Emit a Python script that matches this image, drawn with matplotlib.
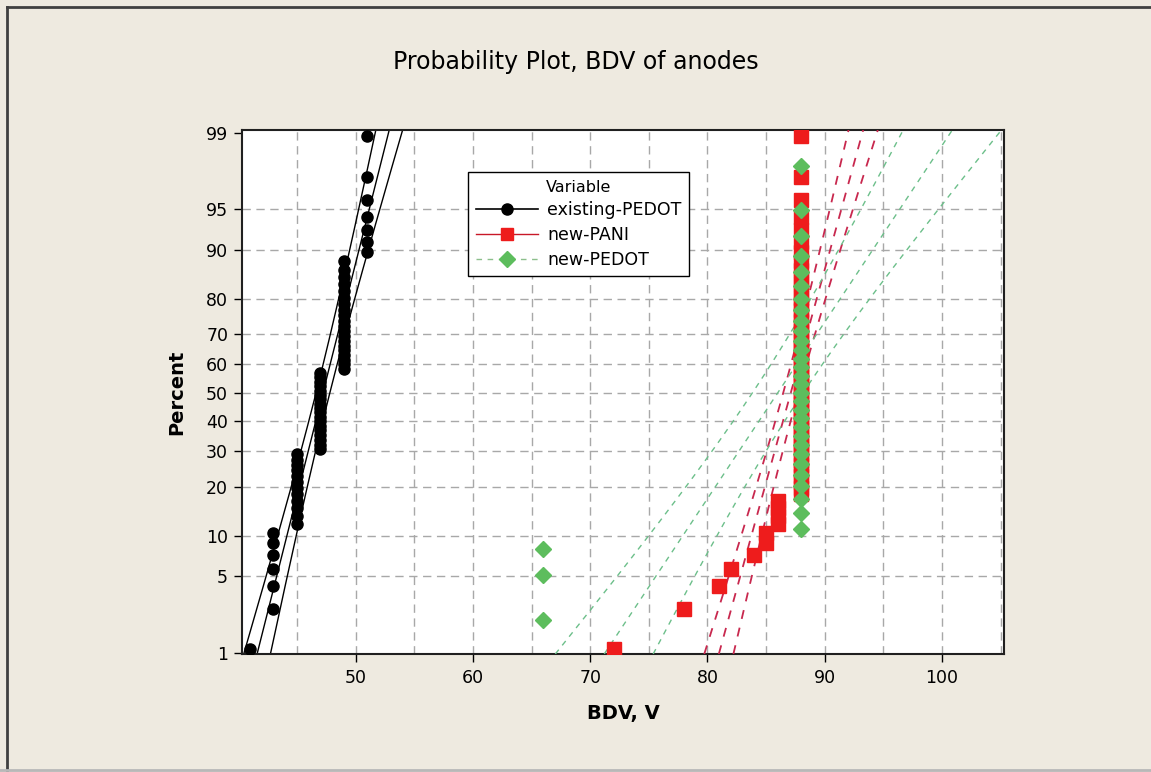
import matplotlib
matplotlib.use("Agg")
import matplotlib.pyplot as plt
from matplotlib.lines import Line2D
import numpy as np
from statistics import NormalDist

# ---------------- data ----------------
existing_values = [41, 43, 45, 47, 49, 51]
existing_counts = [1, 6, 12, 18, 20, 7]

pani_values = [72, 78, 81, 82, 84, 85, 86, 88]
pani_counts = [1, 1, 1, 1, 1, 2, 4, 53]

newpedot_values = [66, 88]
newpedot_counts = [3, 30]

percent_ticks = [1, 5, 10, 20, 30, 40, 50, 60, 70, 80, 90, 95, 99]
x_ticks = [50, 60, 70, 80, 90, 100]
x_grid = [45, 50, 55, 60, 65, 70, 75, 80, 85, 90, 95, 100, 105]

series_names = ["existing-PEDOT", "new-PANI", "new-PEDOT"]
title = "Probability Plot, BDV of anodes"
xlabel = "BDV, V"
ylabel = "Percent"

nd = NormalDist()

BG = "#EEEAE0"
fig = plt.figure(figsize=(11.51, 7.72), dpi=100, facecolor=BG)
ax = fig.add_axes([0.2103, 0.1528, 0.8723 - 0.2103, 0.8316 - 0.1528])
ax.set_facecolor("white")

zlo, zhi = -2.34, 2.353
ax.set_xlim(40.32, 105.29)
ax.set_ylim(zlo, zhi)

# grid
for gx in x_grid:
    ax.axvline(gx, color="#a8a8a8", lw=1.0, ls=(0, (6, 4)), zorder=0)
for p in percent_ticks[1:-1]:
    ax.axhline(nd.inv_cdf(p / 100), color="#a8a8a8", lw=1.0, ls=(0, (6, 4)), zorder=0)


def prob_points(values, counts):
    data = np.sort(np.repeat(values, counts)).astype(float)
    n = len(data)
    i = np.arange(1, n + 1)
    pr = (i - 0.3) / (n + 0.4)
    z = np.array([nd.inv_cdf(v) for v in pr])
    return data, z


def fit_lines(data):
    n = len(data)
    mu = data.mean()
    sd = data.std()
    zz = np.linspace(zlo, zhi, 200)
    xp = mu + zz * sd
    se = sd * np.sqrt((1 + zz ** 2 / 2) / n)
    return zz, xp, xp - 1.96 * se, xp + 1.96 * se


specs = [
    (existing_values, existing_counts, "black", "o", 8.0, "-", "black", 1.0),
    (pani_values, pani_counts, "#ee1c1c", "s", 9.5, (0, (5, 5)), "#c8284e", 1.3),
    (newpedot_values, newpedot_counts, "#5dbd5d", "D", 8.5, (0, (4, 4)), "#6cbf8a", 1.0),
]

for k, (vals, cnts, mc, mk, ms, ls, lc, lw) in enumerate(specs):
    data, z = prob_points(vals, cnts)
    zz, xp, lo, hi = fit_lines(data)
    for line in (xp, lo, hi):
        ax.plot(line, zz, color=lc, ls=ls, lw=lw, zorder=2 + k)
    ax.plot(data, z, ls="none", marker=mk, color=mc, markersize=ms,
            markeredgecolor=mc, zorder=5 + k)

# axes decorations
ax.set_yticks([nd.inv_cdf(p / 100) for p in percent_ticks])
ax.set_yticklabels([str(p) for p in percent_ticks])
ax.set_xticks(x_ticks)
ax.set_xticklabels([str(v) for v in x_ticks])
ax.tick_params(axis="both", direction="out", length=6, width=1, labelsize=12.5,
               colors="black", pad=5)
ax.tick_params(axis="y", pad=4)
for s in ax.spines.values():
    s.set_linewidth(1.5)
    s.set_color("#202020")

ax.set_xlabel(xlabel, fontsize=14, fontweight="bold", labelpad=12)
ax.set_ylabel(ylabel, fontsize=14, fontweight="bold", labelpad=14)
fig.text(0.5, 1 - 62 / 772, title, ha="center", va="center", fontsize=17)

# legend
handles = [
    Line2D([], [], color="black", lw=1.2, marker="o", markersize=8),
    Line2D([], [], color="#c81828", lw=1.0, marker="s", markersize=9, markerfacecolor="#ee1c1c",
           markeredgecolor="#ee1c1c"),
    Line2D([], [], color="#8cbf8c", lw=1.0, ls=(0, (4, 4)), marker="D", markersize=8,
           markerfacecolor="#5dbd5d", markeredgecolor="#5dbd5d"),
]
leg = ax.legend(handles, series_names, title="Variable", loc="upper left",
                bbox_to_anchor=(0.2966, 0.9198), borderaxespad=0, fontsize=12.5,
                title_fontsize=11.5, frameon=True, fancybox=False, framealpha=1,
                edgecolor="black", handlelength=3.6, handletextpad=0.5,
                labelspacing=0.38, borderpad=0.45)
leg.get_frame().set_linewidth(1.0)
leg.set_zorder(20)

# outer frame of the window
fig.add_artist(Line2D([7 / 1151, 7 / 1151], [1 - 7 / 772, 0.002], transform=fig.transFigure,
                      color="#404040", lw=2.0))
fig.add_artist(Line2D([7 / 1151, 1.0], [1 - 7 / 772, 1 - 7 / 772], transform=fig.transFigure,
                      color="#404040", lw=2.0))
fig.add_artist(Line2D([0, 1.0], [0.002, 0.002], transform=fig.transFigure,
                      color="#b8b8b8", lw=2.0))

fig.savefig("out.png", dpi=100, facecolor=BG)
